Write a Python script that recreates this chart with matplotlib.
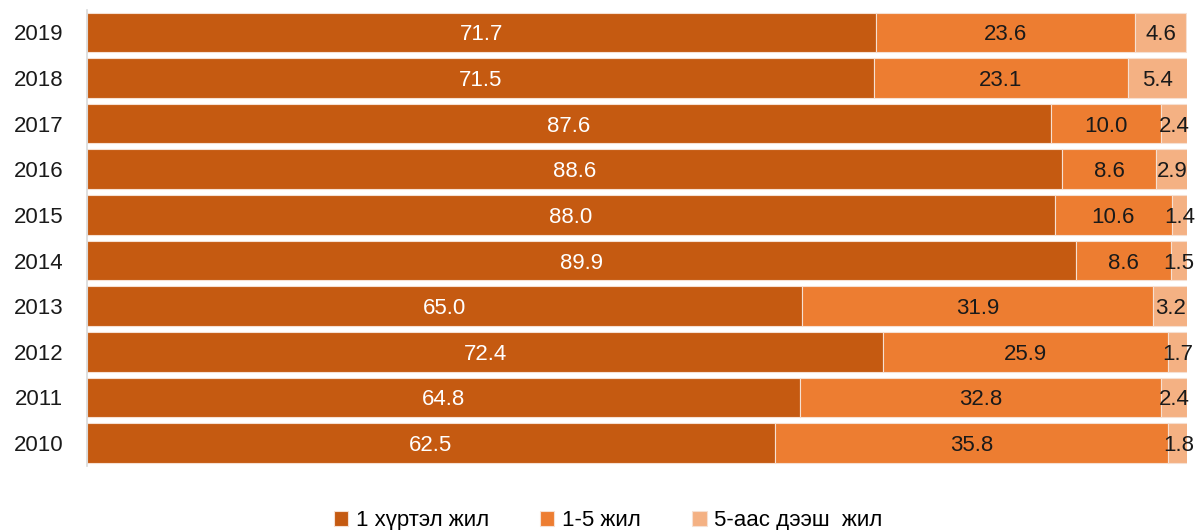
import matplotlib.pyplot as plt
import numpy as np

years = ['2019', '2018', '2017', '2016', '2015', '2014', '2013', '2012', '2011', '2010']
upto_1 = [71.7, 71.5, 87.6, 88.6, 88.0, 89.9, 65.0, 72.4, 64.8, 62.5]
from_1_to_5 = [23.6, 23.1, 10.0, 8.6, 10.6, 8.6, 31.9, 25.9, 32.8, 35.8]
over_5 = [4.6, 5.4, 2.4, 2.9, 1.4, 1.5, 3.2, 1.7, 2.4, 1.8]

names = ['1 хүртэл жил', '1-5 жил', '5-аас дээш  жил']
colors = ['#C55A11', '#ED7D31', '#F4B183']
text_colors = ['white', '#1a1a1a', '#1a1a1a']

plt.rcParams['font.family'] = ['Liberation Sans', 'DejaVu Sans']
fs = 16

fig = plt.figure(figsize=(11.97, 5.30), dpi=100)
ax = fig.add_axes([0.0727, 0.121, 0.919, 0.861])

y = np.arange(len(years))
left = np.zeros(len(years))
for vals, name, c, tc in zip([upto_1, from_1_to_5, over_5], names, colors, text_colors):
    vals = np.array(vals)
    ax.barh(y, vals, left=left, height=0.87, color=c, edgecolor='#f6e0d2',
            linewidth=0.8, label=name)
    for yi, l, v in zip(y, left, vals):
        ax.text(l + v / 2, yi, f'{v:.1f}', ha='center', va='center_baseline',
                color=tc, fontsize=fs)
    left = left + vals

ax.set_xlim(0, 100)
ax.set_ylim(9.5, -0.5)
ax.set_yticks(y)
ax.set_yticklabels(years, fontsize=fs, color='#1a1a1a')
ax.tick_params(axis='y', length=0, pad=17)
ax.set_xticks([])
for s in ['top', 'right', 'bottom']:
    ax.spines[s].set_visible(False)
ax.spines['left'].set_color('#d9d9d9')
ax.spines['left'].set_linewidth(1.2)

fig.legend(loc='lower center', bbox_to_anchor=(0.508, -0.04), ncol=3, frameon=False,
           fontsize=fs, handlelength=0.65, handleheight=0.65, handletextpad=0.35,
           columnspacing=2.3)

fig.savefig('out.png', dpi=100)
